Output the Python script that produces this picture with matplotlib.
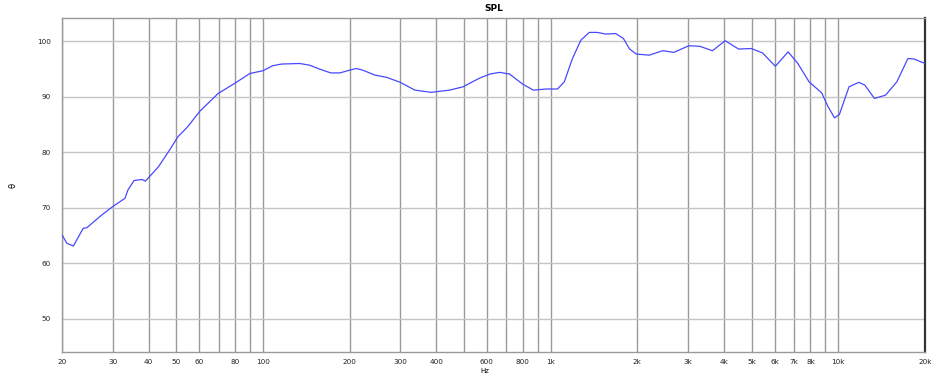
import numpy as np
import matplotlib.pyplot as plt
from matplotlib.ticker import FixedLocator, NullFormatter

# Frequency response
freq = [20, 20.8, 21.9, 23.7, 24.4, 27.5, 30, 33.1, 33.9, 35.6, 37.9, 39,
        43.3, 46.9, 50.6, 54.7, 60.3, 69.8, 79.6, 90, 100, 108, 116, 134,
        145, 157, 172, 185, 200, 211, 222, 245, 269, 300, 337, 384, 445,
        496, 539, 568, 615, 664, 719, 798, 870, 964, 1056, 1115, 1190,
        1273, 1361, 1453, 1553, 1681, 1790, 1880, 1984, 2200, 2450, 2680,
        3020, 3300, 3650, 4040, 4500, 4980, 5450, 6040, 6690, 7230, 7910,
        8750, 9210, 9700, 10080, 10890, 11780, 12360, 13350, 14600, 15970,
        17450, 18350, 20000]
spl = [65.1, 63.6, 63.1, 66.3, 66.4, 68.7, 70.2, 71.7, 73.2, 74.9, 75.1, 74.8,
       77.4, 80.1, 82.8, 84.6, 87.4, 90.6, 92.4, 94.2, 94.7, 95.6, 95.9, 96.0,
       95.7, 95.0, 94.3, 94.3, 94.8, 95.1, 94.8, 93.9, 93.5, 92.6, 91.2, 90.8, 91.2,
       91.8, 92.8, 93.4, 94.1, 94.4, 94.1, 92.3, 91.2, 91.4, 91.4, 92.7, 96.9,
       100.2, 101.6, 101.6, 101.3, 101.4, 100.5, 98.6, 97.7, 97.5, 98.3, 98.0,
       99.2, 99.1, 98.3, 100.1, 98.6, 98.7, 97.9, 95.5, 98.1, 96.0, 92.7,
       90.7, 88.2, 86.2, 86.8, 91.8, 92.6, 92.1, 89.7, 90.3, 92.7,
       96.9, 96.8, 96.0]

x_ticks = [20, 30, 40, 50, 60, 80, 100, 200, 300, 400, 600, 800, 1000,
           2000, 3000, 4000, 5000, 6000, 7000, 8000, 10000, 20000]
x_labels = ['20', '30', '40', '50', '60', '80', '100', '200', '300', '400',
            '600', '800', '1k', '2k', '3k', '4k', '5k', '6k', '7k', '8k',
            '10k', '20k']
y_ticks = [50, 60, 70, 80, 90, 100]

# all vertical grid lines 20..20k
grid_f = [m * 10 ** d for d in range(1, 5) for m in range(1, 10)]
grid_f = [g for g in grid_f if 20 <= g <= 20000]

fig = plt.figure(figsize=(9.38, 3.74), dpi=100)
ax = fig.add_axes([0.0661, 0.0588, 0.9200, 0.8931])

for g in grid_f:
    ax.axvline(g, color='#9a9a9a', lw=1.0, zorder=1)
for yv in y_ticks:
    ax.axhline(yv, color='#c4c4c4', lw=1.0, zorder=1)

ax.plot(freq, spl, color='#4848ff', lw=0.9, zorder=3)

ax.set_xscale('log')
ax.set_xlim(20, 20000)
ax.set_ylim(44, 104.2)
ax.xaxis.set_minor_formatter(NullFormatter())
ax.xaxis.set_minor_locator(FixedLocator([]))
ax.set_xticks(x_ticks)
ax.set_xticklabels(x_labels)
ax.set_yticks(y_ticks)
ax.tick_params(axis='both', length=0, labelsize=5.2, colors='#222222')
ax.tick_params(axis='x', pad=5)
ax.tick_params(axis='y', pad=8)

for side in ['left', 'bottom', 'top']:
    ax.spines[side].set_color('#999999')
    ax.spines[side].set_linewidth(1.0)
ax.spines['right'].set_color('#333333')
ax.spines['right'].set_linewidth(1.6)

ax.set_title('SPL', fontsize=6.5, fontweight='bold', pad=5)
ax.set_xlabel('Hz', fontsize=5, labelpad=0, va='top')
ax.xaxis.set_label_coords(0.490, -0.047)
ax.set_ylabel('θ', fontsize=6, labelpad=14)

fig.savefig('out.png', dpi=100, facecolor='white')
